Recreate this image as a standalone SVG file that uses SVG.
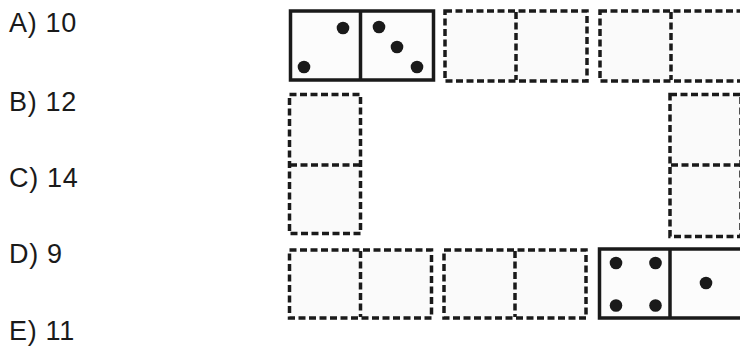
<svg xmlns="http://www.w3.org/2000/svg" width="740" height="347" viewBox="0 0 740 347">
<style>
.t{font-family:"Liberation Sans",Arial,sans-serif;font-size:27px;letter-spacing:0.7px;fill:#1a1a1a}
.d{fill:#fafafa;stroke:#1a1a1a;stroke-width:3.5;stroke-dasharray:7 3.5}
.dl{fill:none;stroke:#1a1a1a;stroke-width:3.5;stroke-dasharray:7 3.5}
.s{fill:#fcfcfc;stroke:#1a1a1a;stroke-width:3.5}
.sl{stroke:#1a1a1a;stroke-width:3.5}
.p{fill:#1a1a1a}
</style>
<rect width="740" height="347" fill="#ffffff"/>
<g id="options">
<text class="t" x="9" y="32">A) 10</text>
<text class="t" x="9" y="111">B) 12</text>
<text class="t" x="9" y="187">C) 14</text>
<text class="t" x="9" y="263">D) 9</text>
<text class="t" x="9" y="340">E) 11</text>
</g>
<g id="domino-2-3">
<rect class="s" x="290.5" y="11" width="143" height="69"/>
<line class="sl" x1="360.5" y1="11" x2="360.5" y2="80"/>
<circle class="p" cx="343" cy="28" r="6.3"/>
<circle class="p" cx="304" cy="67" r="6.3"/>
<circle class="p" cx="379" cy="27" r="6.3"/>
<circle class="p" cx="397" cy="47" r="6.3"/>
<circle class="p" cx="417" cy="67" r="6.3"/>
</g>
<g id="top-1">
<rect class="d" x="445" y="11" width="142" height="70"/>
<line class="dl" x1="516" y1="12" x2="516" y2="80"/>
</g>
<g id="top-2">
<rect class="d" x="600" y="11" width="142" height="70"/>
<line class="dl" x1="671" y1="12" x2="671" y2="80"/>
</g>
<g id="left-1">
<rect class="d" x="289.5" y="94.5" width="71" height="139"/>
<line class="dl" x1="290" y1="165" x2="360" y2="165"/>
</g>
<g id="right-1">
<rect class="d" x="670" y="94.5" width="71" height="142"/>
<line class="dl" x1="671" y1="165" x2="741" y2="165"/>
</g>
<g id="bottom-1">
<rect class="d" x="289.5" y="250" width="142" height="68"/>
<line class="dl" x1="360.5" y1="251" x2="360.5" y2="317"/>
</g>
<g id="bottom-2">
<rect class="d" x="444" y="250" width="142" height="68"/>
<line class="dl" x1="515" y1="251" x2="515" y2="317"/>
</g>
<g id="domino-4-1">
<rect class="s" x="599.5" y="249" width="145" height="69"/>
<line class="sl" x1="670" y1="249" x2="670" y2="318"/>
<circle class="p" cx="616" cy="263" r="6.3"/>
<circle class="p" cx="655.5" cy="263" r="6.3"/>
<circle class="p" cx="616" cy="305.5" r="6.3"/>
<circle class="p" cx="655.5" cy="305.5" r="6.3"/>
<circle class="p" cx="706" cy="283" r="6.3"/>
</g>
</svg>
